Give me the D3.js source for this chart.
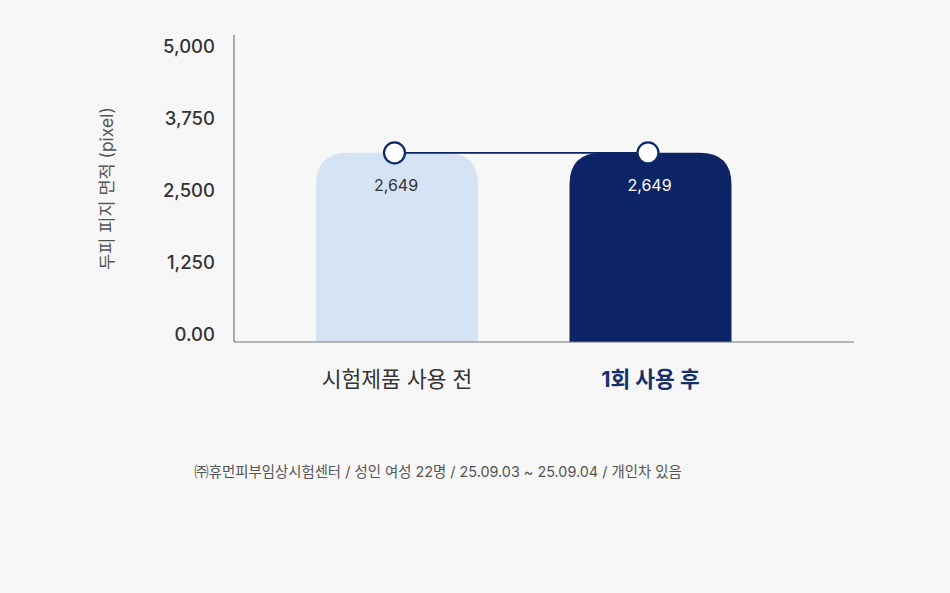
<!DOCTYPE html>
<html><head><meta charset="utf-8">
<script src="https://cdn.jsdelivr.net/npm/d3@7"></script>
<style>
html,body{margin:0;padding:0;background:#f7f7f7;}
svg{display:block;}
text{font-family:Inter,"Noto Sans CJK KR","Noto Sans",sans-serif;}
</style></head>
<body>
<svg id="c" width="950" height="593"></svg>
<script>
const categories = ["시험제품 사용 전", "1회 사용 후"];
const values = [2649, 2649];
const valueLabels = ["2,649", "2,649"];
const tickValues = [0, 1250, 2500, 3750, 5000];
const tickLabels = ["0.00", "1,250", "2,500", "3,750", "5,000"];
const yTitle = "두피 피지 면적 (pixel)";
const footnote = "㈜휴먼피부임상시험센터 / 성인 여성 22명 / 25.09.03 ~ 25.09.04 / 개인차 있음";
const barColors = ["#d5e3f4", "#0c2466"];
const labelColors = ["#333333", "#ffffff"];

const svg = d3.select("#c");
const axisX0 = 234, axisX1 = 854, baseY = 342;

// tick-label scale (label centres)
const yTick = d3.scaleLinear().domain([0, 5000]).range([335, 47]);
// bar scale (as drawn in the reference)
const yBar = d3.scaleLinear().domain([0, 5000]).range([baseY, baseY - 357]);
const x = d3.scalePoint().domain(categories).range([397, 650.5]);
const barW = 162, rad = 32;

svg.append("line").attr("x1", axisX0).attr("x2", axisX0).attr("y1", 35).attr("y2", baseY)
  .attr("stroke", "#777").attr("stroke-width", 1.2);

svg.append("g").selectAll("text").data(tickValues).join("text")
  .attr("x", 215).attr("y", d => yTick(d)).attr("dy", "0.35em")
  .attr("text-anchor", "end").attr("font-size", 18.5).attr("font-weight", 500)
  .attr("fill", "#333").text((d, i) => tickLabels[i]);

svg.append("text").attr("transform", "translate(107,188.5) rotate(-90)")
  .attr("text-anchor", "middle").attr("dy", "0.35em").attr("font-size", 17.5)
  .attr("fill", "#555").text(yTitle);

function barPath(cx, top, bottom) {
  const l = cx - barW / 2, r = cx + barW / 2;
  return `M${l},${bottom} L${l},${top + rad} Q${l},${top} ${l + rad},${top} L${r - rad},${top} Q${r},${top} ${r},${top + rad} L${r},${bottom} Z`;
}
svg.append("g").selectAll("path").data(values).join("path")
  .attr("d", (d, i) => barPath(x(categories[i]), yBar(d), baseY))
  .attr("fill", (d, i) => barColors[i]);

svg.append("line").attr("x1", axisX0).attr("x2", axisX1).attr("y1", baseY).attr("y2", baseY)
  .attr("stroke", "#777").attr("stroke-width", 1.2);

const line = d3.line().x((d, i) => x(categories[i]) - 2.5).y(d => yBar(d));
svg.append("path").datum(values).attr("d", line).attr("fill", "none")
  .attr("stroke", "#0c2466").attr("stroke-width", 1.6);

svg.append("g").selectAll("circle").data(values).join("circle")
  .attr("cx", (d, i) => x(categories[i]) - 2.5).attr("cy", d => yBar(d)).attr("r", 10.5)
  .attr("fill", "#fff").attr("stroke", "#0c2a6b").attr("stroke-width", 2.2);

svg.append("g").selectAll("text").data(values).join("text")
  .attr("x", (d, i) => x(categories[i]) - 1).attr("y", d => yBar(d) + 33).attr("dy", "0.35em")
  .attr("text-anchor", "middle").attr("font-size", 16)
  .attr("fill", (d, i) => labelColors[i]).text((d, i) => valueLabels[i]);

svg.append("g").selectAll("text").data(categories).join("text")
  .attr("x", d => x(d)).attr("y", 379).attr("dy", "0.35em")
  .attr("text-anchor", "middle").attr("font-size", 21.5)
  .attr("font-weight", (d, i) => i === 1 ? 700 : 400)
  .attr("fill", (d, i) => i === 1 ? "#16306e" : "#333").text(d => d);

svg.append("text").attr("x", 438).attr("y", 472).attr("dy", "0.35em")
  .attr("text-anchor", "middle").attr("font-size", 14.4).attr("fill", "#555")
  .text(footnote);
</script>
</body></html>
